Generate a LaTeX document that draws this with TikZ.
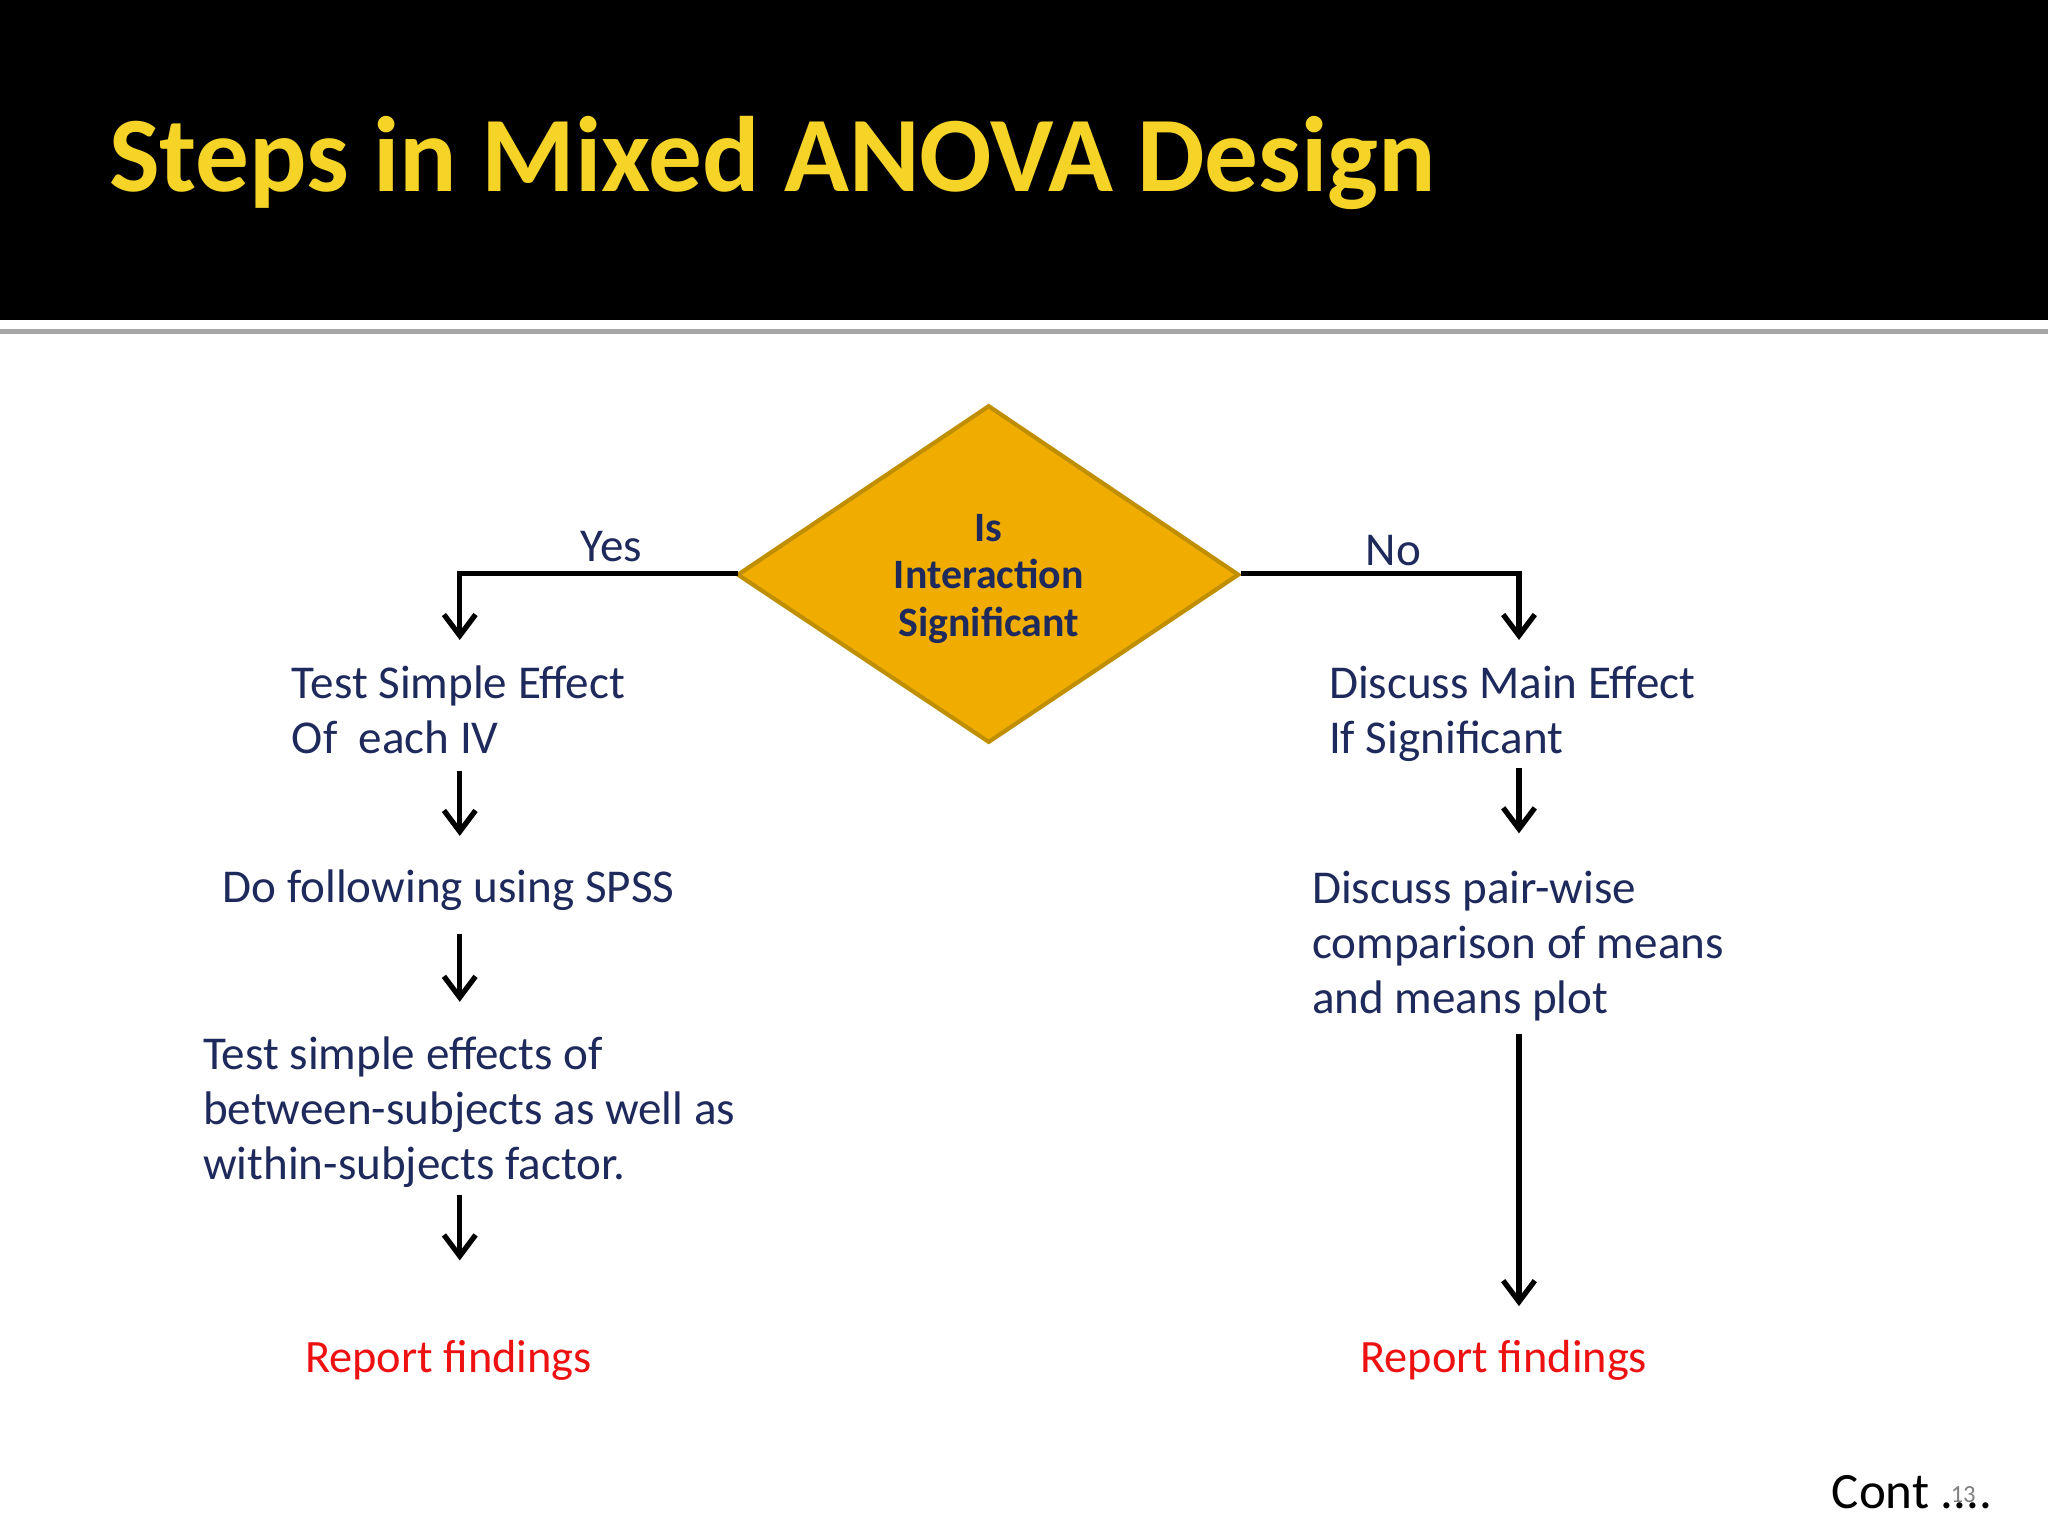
\documentclass[tikz,border=0pt]{standalone}
\usepackage{fontspec}
\setmainfont{Carlito}
\usetikzlibrary{shapes.geometric,arrows.meta}
\definecolor{navy}{HTML}{1F2A5C}
\definecolor{gold}{HTML}{F0AD00}
\definecolor{goldb}{HTML}{C08F00}
\definecolor{ttl}{HTML}{F5D327}
\definecolor{repred}{HTML}{EE1111}
\tikzset{
  lbl/.style={anchor=base west,align=left,text=navy,font=\fontsize{13.4pt}{15.6pt}\selectfont,inner sep=0pt},
  red/.style={lbl,text=repred,font=\fontsize{13.2pt}{15.6pt}\selectfont},
  conn/.style={line width=1.5pt,black},
  arr/.style={conn,-{Straight Barb[length=6pt,width=9pt,line width=1.5pt]}}
}
\begin{document}
\begin{tikzpicture}[x=0.01306cm,y=-0.01306cm]
\useasboundingbox (0,0) rectangle (1568,1176);
\fill[white] (0,0) rectangle (1568,1176);
\fill[black] (0,0) rectangle (1568,245);
\fill[gray!70] (0,252) rectangle (1568,256);
\node[anchor=base west,inner sep=0pt,text=ttl,font=\fontsize{30.5pt}{32pt}\selectfont\bfseries] (title) at (83,147) {Steps in Mixed ANOVA Design};
\path[draw=goldb,line width=1.2pt,fill=gold] (757,311) -- (948,440) -- (757,568) -- (565,440) -- cycle;
\node[align=center,text=navy,font=\fontsize{11.9pt}{13.5pt}\selectfont\bfseries] (dt) at (757,443) {Is\\Interaction\\Significant};
\coordinate (dl) at (565,439);
\coordinate (dr) at (950,439);
\coordinate (yl) at (352,439);
\coordinate (nr) at (1163,439);
\coordinate (ya) at (352,490);
\coordinate (na) at (1163,490);
\draw[arr] (dl) -- (yl) -- (ya);
\draw[arr] (dr) -- (nr) -- (na);
\node[lbl] (yes) at (444,430) {Yes};
\node[lbl] (no) at (1045,433) {No};
\node[lbl] (t1) at (223,577) {Test Simple Effect\\Of\ \ each IV};
\node[lbl] (t2) at (170,691) {Do following using SPSS};
\node[lbl] (t3) at (155,903) {Test simple effects of\\between-subjects as well as\\within-subjects factor.};
\node[red] (r1) at (233,1051) {Report findings};
\node[lbl] (n1) at (1017,577) {Discuss Main Effect\\If Significant};
\node[lbl] (n2) at (1004,776) {Discuss pair-wise\\comparison of means\\and means plot};
\node[red] (r2) at (1041,1051) {Report findings};
\coordinate (a1) at (352,590); \coordinate (b1) at (352,640);
\coordinate (a2) at (352,715); \coordinate (b2) at (352,767);
\coordinate (a3) at (352,915); \coordinate (b3) at (352,965);
\coordinate (a4) at (1163,588); \coordinate (b4) at (1163,638);
\coordinate (a5) at (1163,792); \coordinate (b5) at (1163,1000);
\foreach \i in {1,...,5} \draw[arr] (a\i) -- (b\i);
\node[anchor=base west,inner sep=0pt,font=\fontsize{14.5pt}{16pt}\selectfont] (cont) at (1402,1155) {Cont ....};
\node[anchor=base west,inner sep=0pt,text=gray,font=\fontsize{7pt}{8pt}\selectfont] (pg) at (1493,1150) {13};
\end{tikzpicture}
\end{document}
